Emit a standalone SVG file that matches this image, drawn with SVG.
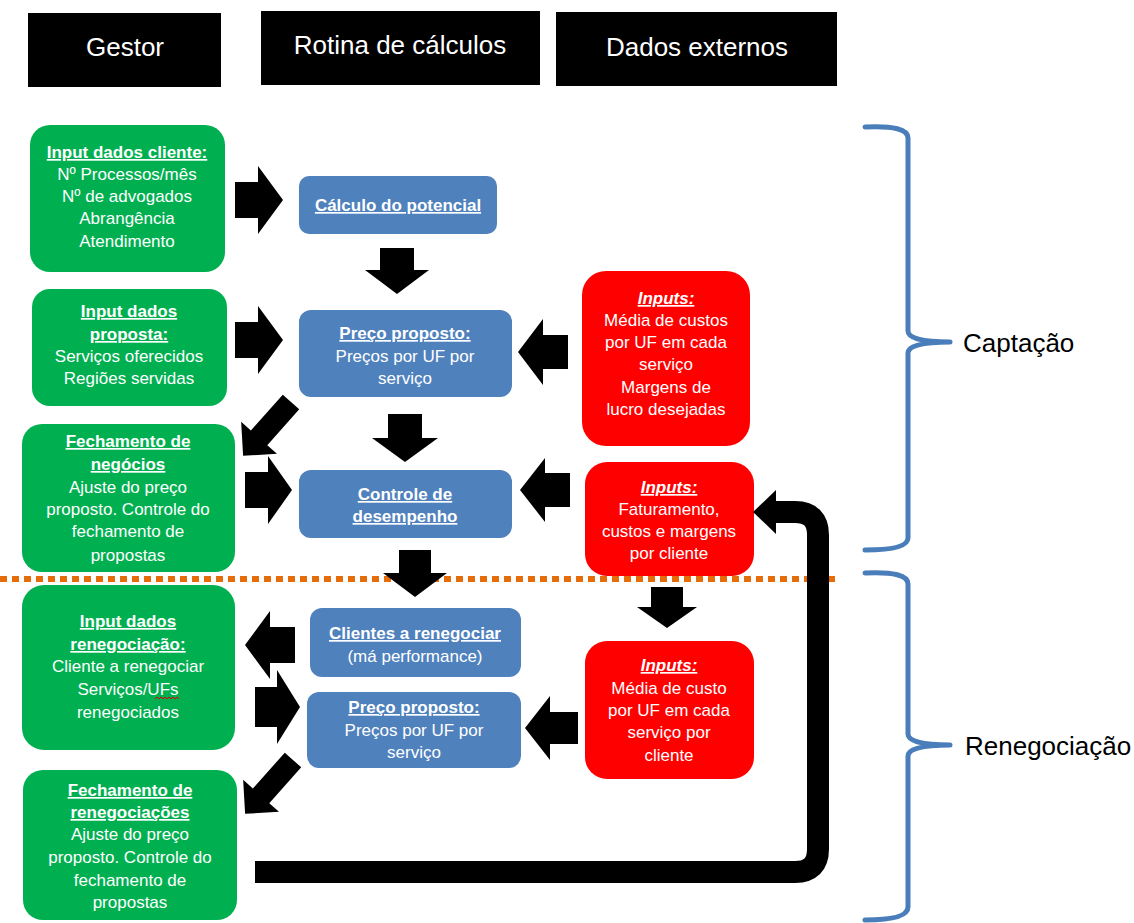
<svg xmlns="http://www.w3.org/2000/svg" width="1134" height="923" viewBox="0 0 1134 923">
<style>
.hdr{fill:#000}
.hdrt{fill:#fff;font-family:"Liberation Sans",Arial,sans-serif;font-size:26px;text-anchor:middle}
.g{fill:#00B050}
.b{fill:#4F81BD}
.r{fill:#FF0000}
.t{fill:#fff;font-family:"Liberation Sans",Arial,sans-serif;font-size:17px;text-anchor:middle}
.u{font-weight:bold;text-decoration:underline}
.ui{font-weight:bold;font-style:italic;text-decoration:underline}
.arr{fill:#000}
.brace{fill:none;stroke:#4A7EBB;stroke-width:5;stroke-linecap:round;stroke-linejoin:round}
.lbl{fill:#000;font-family:"Liberation Sans",Arial,sans-serif;font-size:26px}
</style>
<rect width="1134" height="923" fill="#fff"/>

<g id="hdr-gestor"><rect class="hdr" x="28" y="13" width="193" height="74"/><text class="hdrt" x="125" y="56">Gestor</text></g>
<g id="hdr-rotina"><rect class="hdr" x="261" y="11" width="279" height="74"/><text class="hdrt" x="400" y="54">Rotina de cálculos</text></g>
<g id="hdr-dados"><rect class="hdr" x="556" y="12" width="281" height="74"/><text class="hdrt" x="697" y="56">Dados externos</text></g>

<line id="divider" x1="0" y1="579" x2="836" y2="579" stroke="#E46C0A" stroke-width="6" stroke-dasharray="7 5"/>

<g id="g1"><rect class="g" x="30" y="125" width="195" height="147" rx="20"/>
<text class="t"><tspan class="u" x="127" y="158">Input dados cliente:</tspan><tspan x="127" y="180">Nº Processos/mês</tspan><tspan x="127" y="202">Nº de advogados</tspan><tspan x="127" y="224">Abrangência</tspan><tspan x="127" y="247">Atendimento</tspan></text></g>
<g id="g2"><rect class="g" x="32" y="289" width="195" height="117" rx="18"/>
<text class="t"><tspan class="u" x="129" y="317">Input dados</tspan><tspan class="u" x="129" y="340">proposta:</tspan><tspan x="129" y="362">Serviços oferecidos</tspan><tspan x="129" y="384">Regiões servidas</tspan></text></g>
<g id="g3"><rect class="g" x="22" y="424" width="213" height="148" rx="20"/>
<text class="t"><tspan class="u" x="128" y="447">Fechamento de</tspan><tspan class="u" x="128" y="470">negócios</tspan><tspan x="128" y="493">Ajuste do preço</tspan><tspan x="128" y="515">proposto. Controle do</tspan><tspan x="128" y="537">fechamento de</tspan><tspan x="128" y="561">propostas</tspan></text></g>
<g id="g4"><rect class="g" x="22" y="585" width="213" height="165" rx="22"/>
<text class="t"><tspan class="u" x="128" y="627">Input dados</tspan><tspan class="u" x="128" y="650">renegociação:</tspan><tspan x="128" y="672">Cliente a renegociar</tspan><tspan x="128" y="695">Serviços/UFs</tspan><tspan x="128" y="718">renegociados</tspan></text>
<path d="M155 699 l2 -2 l2 2 l2 -2 l2 2 l2 -2 l2 2 l2 -2 l2 2 l2 -2 l2 2 l2 -2 l2 2" fill="none" stroke="#E00000" stroke-width="1"/></g>
<g id="g5"><rect class="g" x="23" y="770" width="214" height="150" rx="20"/>
<text class="t"><tspan class="u" x="130" y="796">Fechamento de</tspan><tspan class="u" x="130" y="818">renegociações</tspan><tspan x="130" y="840">Ajuste do preço</tspan><tspan x="130" y="863">proposto. Controle do</tspan><tspan x="130" y="886">fechamento de</tspan><tspan x="130" y="908">propostas</tspan></text></g>

<g id="b1"><rect class="b" x="299" y="176" width="198" height="58" rx="10"/>
<text class="t"><tspan class="u" x="398" y="211">Cálculo do potencial</tspan></text></g>
<g id="b2"><rect class="b" x="299" y="310" width="213" height="87" rx="12"/>
<text class="t"><tspan class="u" x="405" y="339">Preço proposto:</tspan><tspan x="405" y="362">Preços por UF por</tspan><tspan x="405" y="384">serviço</tspan></text></g>
<g id="b3"><rect class="b" x="299" y="470" width="213" height="68" rx="12"/>
<text class="t"><tspan class="u" x="405" y="500">Controle de</tspan><tspan class="u" x="405" y="522">desempenho</tspan></text></g>
<g id="b4"><rect class="b" x="310" y="608" width="211" height="69" rx="12"/>
<text class="t"><tspan class="u" x="415" y="639">Clientes a renegociar</tspan><tspan x="415" y="662">(má performance)</tspan></text></g>
<g id="b5"><rect class="b" x="307" y="692" width="214" height="76" rx="12"/>
<text class="t"><tspan class="u" x="414" y="713">Preço proposto:</tspan><tspan x="414" y="736">Preços por UF por</tspan><tspan x="414" y="758">serviço</tspan></text></g>

<g id="r1"><rect class="r" x="582" y="271" width="168" height="175" rx="24"/>
<text class="t"><tspan class="ui" x="666" y="304">Inputs:</tspan><tspan x="666" y="326">Média de custos</tspan><tspan x="666" y="348">por UF em cada</tspan><tspan x="666" y="370">serviço</tspan><tspan x="666" y="393">Margens de</tspan><tspan x="666" y="415">lucro desejadas</tspan></text></g>
<g id="r2"><rect class="r" x="585" y="462" width="169" height="114" rx="22"/>
<text class="t"><tspan class="ui" x="669" y="493">Inputs:</tspan><tspan x="669" y="515">Faturamento,</tspan><tspan x="669" y="537">custos e margens</tspan><tspan x="669" y="559">por cliente</tspan></text></g>
<g id="r3"><rect class="r" x="585" y="641" width="169" height="138" rx="22"/>
<text class="t"><tspan class="ui" x="669" y="671">Inputs:</tspan><tspan x="669" y="694">Média de custo</tspan><tspan x="669" y="716">por UF em cada</tspan><tspan x="669" y="738">serviço por</tspan><tspan x="669" y="761">cliente</tspan></text></g>

<g id="connectors">
<polygon class="arr" points="235,182 258,182 258,166 283,200 258,234 258,218 235,218"/>
<polygon class="arr" points="235,322 258,322 258,306 283,340 258,374 258,358 235,358"/>
<polygon class="arr" points="245,472 268,472 268,456 292,490 268,524 268,508 245,508"/>
<polygon class="arr" points="255,687 277,687 277,670 300,707 277,744 277,727 255,727"/>
<polygon class="arr" points="568,335 543,335 543,319 518,352 543,385 543,369 568,369"/>
<polygon class="arr" points="570,473 545,473 545,458 520,490 545,522 545,507 570,507"/>
<polygon class="arr" points="295,627 270,627 270,611 245,645 270,679 270,663 295,663"/>
<polygon class="arr" points="578,712 550,712 550,696 525,728 550,760 550,744 578,744"/>
<polygon class="arr" points="380,248 414,248 414,270 429,270 397,294 365,270 380,270"/>
<polygon class="arr" points="388,414 422,414 422,438 438,438 405,462 372,438 388,438"/>
<polygon class="arr" points="399,550 431,550 431,573 447,573 415,597 383,573 399,573"/>
<polygon class="arr" points="651,587 683,587 683,607 697,607 667,628 637,607 651,607"/>
<polygon class="arr" transform="translate(291,402) rotate(131.7)" points="0,-11 48,-11 48,-24 72,0 48,24 48,11 0,11"/>
<polygon class="arr" transform="translate(293,760) rotate(131.7)" points="0,-11 48,-11 48,-24 72,0 48,24 48,11 0,11"/>
<path d="M255 872 H795 Q818 872 818 849 V535 Q818 512 795 512 H774" fill="none" stroke="#000" stroke-width="22"/>
<polygon class="arr" points="776,490 753,512 776,534"/>
</g>

<g id="brace-captacao"><path class="brace" d="M865 127 Q908 125 908 138 L908 331 Q908 342 950 342 Q908 342 908 353 L908 538 Q908 550 865 550"/>
<text class="lbl" x="963" y="352">Captação</text></g>
<g id="brace-renegociacao"><path class="brace" d="M865 573 Q908 571 908 584 L908 734 Q908 745 950 745 Q908 745 908 756 L908 907 Q908 920 865 920"/>
<text class="lbl" x="965" y="755">Renegociação</text></g>
</svg>
